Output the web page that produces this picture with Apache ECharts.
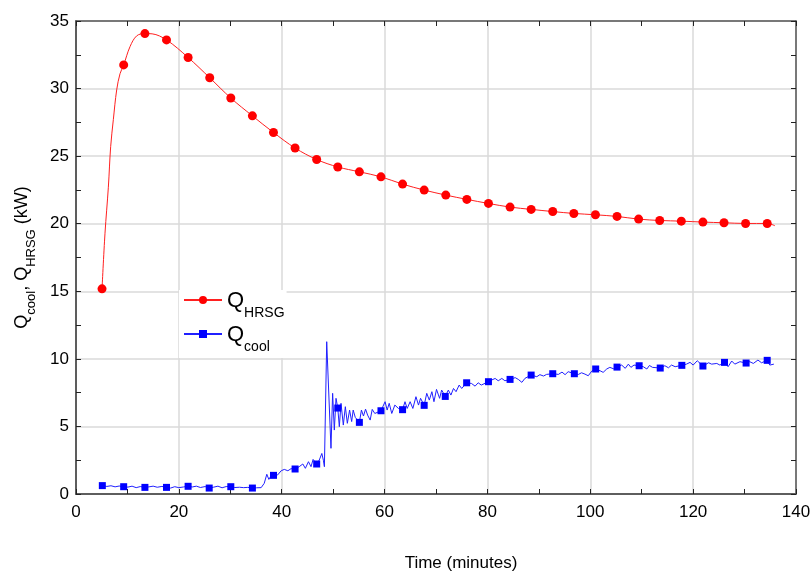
<!DOCTYPE html>
<html>
<head>
<meta charset="utf-8">
<script src="https://cdn.jsdelivr.net/npm/echarts@6/dist/echarts.min.js"></script>
<style>
	html, body { margin: 0; padding: 0; background: #fff; }
	#chart { width: 811px; height: 571px; }
</style>
</head>
<body>
<div id="chart"></div>
<script>
// 数据: 时间 (minutes) / 功率 (kW)
var hrsgMarkers = [
	[5.06, 15.18], [9.27, 31.75], [13.4, 34.07], [17.6, 33.6], [21.8, 32.3], [26.0, 30.8],
	[30.1, 29.3], [34.3, 27.98], [38.4, 26.75], [42.6, 25.6], [46.8, 24.75], [50.9, 24.2],
	[55.1, 23.84], [59.3, 23.47], [63.5, 22.93], [67.7, 22.49], [71.9, 22.12], [76.0, 21.8],
	[80.2, 21.5], [84.4, 21.23], [88.5, 21.06], [92.7, 20.9], [96.8, 20.76], [101.0, 20.66],
	[105.2, 20.54], [109.4, 20.34], [113.5, 20.24], [117.7, 20.19], [121.9, 20.12], [126.0, 20.07],
	[130.2, 20.02], [134.4, 20.02]
];
var hrsgTrace = [
	[5.64, 19.3], [6.29, 22.7], [6.74, 25.7], [7.26, 27.7], [7.91, 29.9], [8.56, 31.1],
	[10.5, 33.1], [11.8, 33.9], [14.8, 34.05], [135.9, 19.85]
];

var coolMarkers = [
	[5.12, 0.62], [9.27, 0.54], [13.4, 0.49], [17.6, 0.49], [21.8, 0.57], [25.9, 0.44],
	[30.1, 0.54], [34.3, 0.44], [38.4, 1.38], [42.6, 1.85], [46.8, 2.22], [50.9, 6.36],
	[55.1, 5.30], [59.3, 6.16], [63.5, 6.24], [67.7, 6.56], [71.8, 7.22], [75.96, 8.23],
	[80.2, 8.31], [84.4, 8.48], [88.5, 8.80], [92.7, 8.90], [96.9, 8.90], [101.05, 9.25],
	[105.2, 9.39], [109.5, 9.49], [113.6, 9.32], [117.8, 9.52], [121.9, 9.47], [126.1, 9.74],
	[130.3, 9.69], [134.4, 9.89]
];
var coolTrace = [
	[6.0, 0.56], [6.8, 0.61], [7.6, 0.53], [8.4, 0.59],
	[10.1, 0.51], [10.9, 0.58], [11.7, 0.47], [12.5, 0.55],
	[14.2, 0.53], [15.0, 0.58], [15.8, 0.5], [16.7, 0.56],
	[18.4, 0.44], [19.2, 0.54], [20.0, 0.47], [20.9, 0.52],
	[22.6, 0.52], [23.4, 0.58], [24.2, 0.48], [25.1, 0.55],
	[26.7, 0.5], [27.6, 0.58], [28.4, 0.46], [29.2, 0.55],
	[30.9, 0.48], [31.8, 0.5], [32.6, 0.47], [33.4, 0.49],
	[35.1, 0.46], [36.0, 0.47], [36.6, 0.79], [37.1, 1.46], [37.5, 1.08], [37.9, 1.33],
	[39.2, 1.41], [39.9, 1.72], [40.5, 1.82], [41.2, 1.72], [41.8, 1.87],
	[43.4, 2.02], [44.1, 2.22], [44.6, 1.9], [45.2, 2.39], [45.7, 2.02], [46.1, 2.56],
	[47.3, 2.51], [47.8, 3.0], [48.1, 2.5], [48.3, 2.02], [48.75, 11.27], [49.58, 3.38],
	[49.9, 7.45], [50.23, 4.73], [50.56, 7.08],
	[51.2, 4.98], [51.53, 6.71], [51.98, 5.1], [52.37, 6.46], [52.76, 5.23], [53.2, 6.21],
	[53.6, 5.36], [53.9, 6.21], [54.3, 5.67],
	[55.5, 6.21], [55.9, 5.77], [56.3, 6.28], [56.7, 5.84], [57.2, 5.47], [57.6, 6.26], [58.1, 5.96],
	[60.1, 6.83], [60.5, 6.21], [60.9, 6.71], [61.4, 5.96], [62.0, 6.58], [62.7, 6.33],
	[63.97, 6.83], [64.4, 6.33], [64.97, 6.83], [65.5, 6.33], [66.1, 7.2], [66.6, 6.58], [67.0, 7.08],
	[68.2, 7.45], [68.7, 6.95], [69.2, 7.57], [69.6, 6.83], [70.1, 7.74], [70.7, 7.08], [71.1, 7.69],
	[72.4, 7.69], [72.9, 7.32], [73.4, 7.81], [73.9, 7.57], [74.5, 8.06], [75.0, 7.81],
	[76.9, 8.18], [77.6, 7.98], [78.2, 8.23], [78.8, 8.06],
	[80.8, 8.43], [81.5, 8.55], [82.1, 8.38], [82.8, 8.55], [83.4, 8.38],
	[85.4, 8.61], [86.0, 8.48], [86.7, 8.26], [87.3, 8.56],
	[89.6, 8.68], [90.2, 8.83], [90.9, 8.73], [91.5, 8.85],
	[93.8, 8.85], [94.5, 9.02], [95.1, 8.83], [95.7, 9.05],
	[97.7, 8.85], [98.3, 8.97], [98.97, 8.87], [99.6, 8.75], [100.3, 9.1],
	[101.9, 9.12], [102.5, 9.0], [103.2, 9.25], [103.8, 9.37], [104.5, 9.27],
	[106.1, 9.54], [106.8, 9.3], [107.4, 9.61], [107.9, 9.37], [108.5, 9.54],
	[110.3, 9.42], [111.0, 9.25], [111.5, 9.51], [112.1, 9.37],
	[114.5, 9.49], [115.2, 9.34], [115.8, 9.54], [116.5, 9.42],
	[118.7, 9.61], [119.4, 9.74], [120.0, 9.54], [120.8, 9.86],
	[123.0, 9.71], [123.6, 9.61], [124.6, 9.66], [125.2, 9.54],
	[126.8, 9.42], [127.5, 9.84], [128.1, 9.61], [129.1, 9.79],
	[131.0, 9.79], [131.7, 9.66], [132.6, 9.91], [133.3, 9.71],
	[134.9, 9.54], [135.7, 9.61]
];

var seriesNames = ['{q|Q}{s|HRSG}', '{q|Q}{s|cool}'];

// 合并曲线与标记点, 非标记点不画符号
function buildData(trace, markers) {
	var list = [];
	trace.forEach(function (p) { list.push({ value: p, symbol: 'none' }); });
	markers.forEach(function (p) { list.push({ value: p }); });
	list.sort(function (a, b) { return a.value[0] - b.value[0]; });
	return list;
}

var font = 'Liberation Sans, Arial, sans-serif';
var axisColor = '#555';
var gridBox = { left: 76, right: 15, top: 21, bottom: 77, outerBoundsMode: 'none' };

// grid 0: 刻度标签 + 网格线; grid 1: 内侧刻度 (每10 / 每2.5)
function labelAxis(max, interval, margin) {
	return {
		type: 'value',
		gridIndex: 0,
		min: 0, max: max, interval: interval,
		axisLine: { show: true, onZero: false, lineStyle: { color: axisColor, width: 1.5 } },
		axisTick: { show: false },
		axisLabel: { color: '#000', fontSize: 17, fontFamily: font, margin: margin },
		splitLine: { show: true, lineStyle: { color: '#dadada', width: 1.5 } }
	};
}

function tickAxis(pos, max, interval) {
	return {
		type: 'value',
		gridIndex: 1,
		position: pos,
		min: 0, max: max, interval: interval,
		axisLine: { show: true, onZero: false, lineStyle: { color: axisColor, width: 1.5 } },
		axisTick: { show: true, inside: true, length: 5, lineStyle: { color: '#222' } },
		axisLabel: { show: false },
		splitLine: { show: false }
	};
}

var xBottom = labelAxis(140, 20, 10);
xBottom.position = 'bottom';
xBottom.name = 'Time (minutes)';
xBottom.nameLocation = 'middle';
xBottom.nameGap = 61;
xBottom.nameTextStyle = { color: '#000', fontSize: 17, fontFamily: font, padding: [0, 0, 0, 50] };

var yLeft = labelAxis(35, 5, 7);
yLeft.position = 'left';
yLeft.name = '{q|Q}{s|cool}{q|, Q}{s|HRSG}{q| (kW)}';
yLeft.nameLocation = 'middle';
yLeft.nameGap = 45;
yLeft.nameRotate = 90;
yLeft.nameTextStyle = {
	color: '#000', fontFamily: font,
	rich: {
		q: { fontSize: 18, fontFamily: font, color: '#000', lineHeight: 22, verticalAlign: 'bottom' },
		s: { fontSize: 13, fontFamily: font, color: '#000', lineHeight: 22, verticalAlign: 'bottom', padding: [0, 0, -7, 0] }
	}
};

var option = {
	animation: false,
	backgroundColor: '#fff',
	grid: [gridBox, gridBox],
	legend: {
		left: 179,
		top: 290,
		orient: 'vertical',
		backgroundColor: '#fff',
		padding: [0, 2, 4, 4],
		itemGap: 4,
		itemWidth: 38,
		itemHeight: 10,
		data: seriesNames,
		textStyle: {
			fontFamily: font,
			rich: {
				q: { fontSize: 22, fontFamily: font, color: '#000', lineHeight: 24, verticalAlign: 'bottom' },
				s: { fontSize: 14, fontFamily: font, color: '#000', lineHeight: 24, verticalAlign: 'bottom', padding: [0, 0, -8, 0] }
			}
		}
	},
	xAxis: [xBottom, tickAxis('bottom', 140, 10), tickAxis('top', 140, 10)],
	yAxis: [yLeft, tickAxis('left', 35, 2.5), tickAxis('right', 35, 2.5)],
	series: [
		{
			name: seriesNames[0],
			type: 'line',
			xAxisIndex: 0,
			yAxisIndex: 0,
			smooth: 0.35,
			symbol: 'circle',
			symbolSize: 9,
			color: '#ff0000',
			lineStyle: { width: 1, color: '#ff2020' },
			itemStyle: { color: '#ff0000' },
			data: buildData(hrsgTrace, hrsgMarkers)
		},
		{
			name: seriesNames[1],
			type: 'line',
			xAxisIndex: 0,
			yAxisIndex: 0,
			symbol: 'rect',
			symbolSize: 7,
			color: '#0000ff',
			lineStyle: { width: 1, color: '#2020ff' },
			itemStyle: { color: '#0000ff' },
			data: buildData(coolTrace, coolMarkers)
		}
	]
};

var chart = echarts.init(document.getElementById('chart'));
chart.setOption(option);
</script>
</body>
</html>
